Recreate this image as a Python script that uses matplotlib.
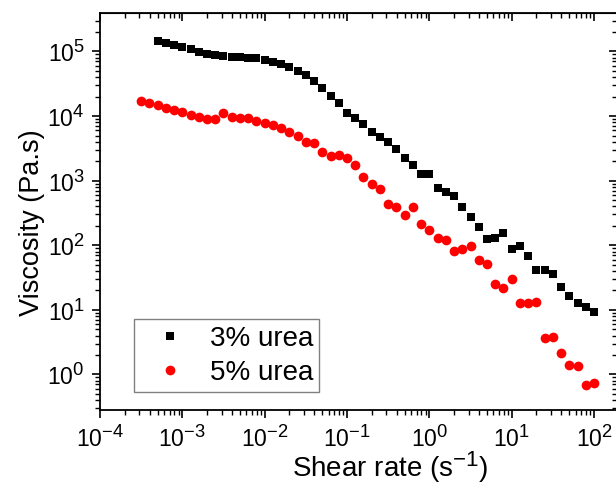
import matplotlib
matplotlib.use("Agg")
import matplotlib.pyplot as plt
from matplotlib.ticker import LogLocator, NullFormatter
try:
    import matplotlib._mathtext as _mt
    _mt.SHRINK_FACTOR = 0.8
except Exception:
    pass

plt.rcParams['font.family'] = ['Liberation Sans', 'DejaVu Sans']
plt.rcParams['mathtext.fontset'] = 'custom'
plt.rcParams['mathtext.rm'] = 'Liberation Sans'
plt.rcParams['mathtext.it'] = 'Liberation Sans'
plt.rcParams['mathtext.default'] = 'regular'

# ---- data ----
shear_3 = [5.01e-4, 6.31e-4, 7.94e-4,
           1.00e-3, 1.26e-3, 1.58e-3, 2.00e-3, 2.51e-3, 3.16e-3, 3.98e-3, 5.01e-3, 6.31e-3, 7.94e-3,
           1.00e-2, 1.26e-2, 1.58e-2, 2.00e-2, 2.51e-2, 3.16e-2, 3.98e-2, 5.01e-2, 6.31e-2, 7.94e-2,
           1.00e-1, 1.26e-1, 1.58e-1, 2.00e-1, 2.51e-1, 3.16e-1, 3.98e-1, 5.01e-1, 6.31e-1, 7.94e-1,
           1.00e0, 1.26e0, 1.58e0, 2.00e0, 2.51e0, 3.16e0, 3.98e0, 5.01e0, 6.31e0, 7.94e0,
           1.00e1, 1.26e1, 1.58e1, 2.00e1, 2.51e1, 3.16e1, 3.98e1, 5.01e1, 6.31e1, 7.94e1,
           1.00e2]
visc_3 = [1.47e5, 1.37e5, 1.27e5,
          1.19e5, 1.08e5, 9.77e4, 9.12e4, 8.71e4, 8.41e4, 8.22e4, 8.13e4, 8.04e4, 7.85e4,
          7.41e4, 6.92e4, 6.31e4, 5.69e4, 5.01e4, 4.33e4, 3.53e4, 2.75e4, 2.05e4, 1.58e4,
          1.10e4, 9.25e3, 7.55e3, 5.61e3, 4.70e3, 4.02e3, 3.10e3, 2.22e3, 1.75e3, 1.27e3,
          1.27e3, 762, 676, 586, 387, 277, 194, 124, 128, 153,
          86.7, 98.6, 68.2, 41.5, 41.5, 36.0, 22.9, 16.4, 12.6, 11.2,
          9.38]

shear_5 = [3.16e-4, 3.98e-4, 5.01e-4, 6.31e-4, 7.94e-4,
           1.00e-3, 1.26e-3, 1.58e-3, 2.00e-3, 2.51e-3, 3.16e-3, 3.98e-3, 5.01e-3, 6.31e-3, 7.94e-3,
           1.00e-2, 1.26e-2, 1.58e-2, 2.00e-2, 2.51e-2, 3.16e-2, 3.98e-2, 5.01e-2, 6.31e-2, 7.94e-2,
           1.00e-1, 1.26e-1, 1.58e-1, 2.00e-1, 2.51e-1, 3.16e-1, 3.98e-1, 5.01e-1, 6.31e-1, 7.94e-1,
           1.00e0, 1.26e0, 1.58e0, 2.00e0, 2.51e0, 3.16e0, 3.98e0, 5.01e0, 6.31e0, 7.94e0,
           1.00e1, 1.26e1, 1.58e1, 2.00e1, 2.51e1, 3.16e1, 3.98e1, 5.01e1, 6.31e1, 7.94e1,
           1.00e2]
visc_5 = [1.71e4, 1.58e4, 1.47e4, 1.35e4, 1.24e4,
          1.15e4, 1.05e4, 9.68e3, 9.12e3, 9.02e3, 1.10e4, 9.57e3, 9.25e3, 9.46e3, 8.39e3,
          7.91e3, 7.19e3, 6.47e3, 5.74e3, 4.92e3, 4.02e3, 3.79e3, 2.81e3, 2.41e3, 2.50e3,
          2.22e3, 1.75e3, 1.15e3, 879, 736, 432, 396, 294, 396, 211,
          173, 131, 121, 82.6, 87.7, 97.5, 59.3, 50.8, 24.9, 22.1,
          29.8, 12.6, 12.6, 13.4, 3.63, 3.77, 2.14, 1.40, 1.36, 0.69,
          0.74]

labels = ['3% urea', '5% urea']
x_label = 'Shear rate (s$^{-1}$)'
y_label = 'Viscosity (Pa.s)'

# ---- figure ----
fig = plt.figure(figsize=(6.16, 4.91), dpi=100)
ax = fig.add_axes([100/616, 81/491, 517/616, 397/491])

ax.plot(shear_3, visc_3, linestyle='none', marker='s', markersize=6,
        color='black', markeredgewidth=0, label=labels[0])
ax.plot(shear_5, visc_5, linestyle='none', marker='o', markersize=7,
        color='#ff0000', markeredgewidth=0, label=labels[1])

ax.set_xscale('log')
ax.set_yscale('log')
ax.set_xlim(1e-4, 190)
ax.set_ylim(0.282, 3.94e5)

ax.xaxis.set_major_locator(LogLocator(base=10, numticks=20))
ax.xaxis.set_minor_locator(LogLocator(base=10, subs=range(2, 10), numticks=20))
ax.yaxis.set_major_locator(LogLocator(base=10, numticks=20))
ax.yaxis.set_minor_locator(LogLocator(base=10, subs=range(2, 10), numticks=20))
ax.xaxis.set_minor_formatter(NullFormatter())
ax.yaxis.set_minor_formatter(NullFormatter())

for sp in ax.spines.values():
    sp.set_linewidth(1.3)

ax.tick_params(which='major', direction='out', length=6, width=1.2,
               labelsize=16.5, pad=5, top=False, right=False)
ax.tick_params(which='minor', direction='out', length=3.5, width=1.0,
               top=False, right=False)

# mirrored inward ticks on top and right
axt = ax.secondary_xaxis('top')
axt.tick_params(which='major', direction='in', length=6, width=1.2, labeltop=False)
axt.tick_params(which='minor', direction='in', length=3.5, width=1.0)
axt.xaxis.set_major_locator(LogLocator(base=10, numticks=20))
axt.xaxis.set_minor_locator(LogLocator(base=10, subs=range(2, 10), numticks=20))
axt.xaxis.set_major_formatter(NullFormatter())
axt.xaxis.set_minor_formatter(NullFormatter())
axr = ax.secondary_yaxis('right')
axr.tick_params(which='major', direction='in', length=6, width=1.2, labelright=False)
axr.tick_params(which='minor', direction='in', length=3.5, width=1.0)
axr.yaxis.set_major_locator(LogLocator(base=10, numticks=20))
axr.yaxis.set_minor_locator(LogLocator(base=10, subs=range(2, 10), numticks=20))
axr.yaxis.set_major_formatter(NullFormatter())
axr.yaxis.set_minor_formatter(NullFormatter())

ax.set_xlabel(x_label, fontsize=20)
ax.set_ylabel(y_label, fontsize=19.5)
ax.xaxis.set_label_coords(0.561, -0.10)
ax.yaxis.set_label_coords(-0.106, 0.471)

leg = ax.legend(loc='lower left', bbox_to_anchor=(0.0658, 0.0453), borderaxespad=0,
                fontsize=20, frameon=True, fancybox=False, framealpha=1,
                edgecolor='#808080', handlelength=2.15, handletextpad=0.36,
                borderpad=0.22, labelspacing=0.3)
leg.get_frame().set_linewidth(1.0)

fig.savefig('out.png', dpi=100)
